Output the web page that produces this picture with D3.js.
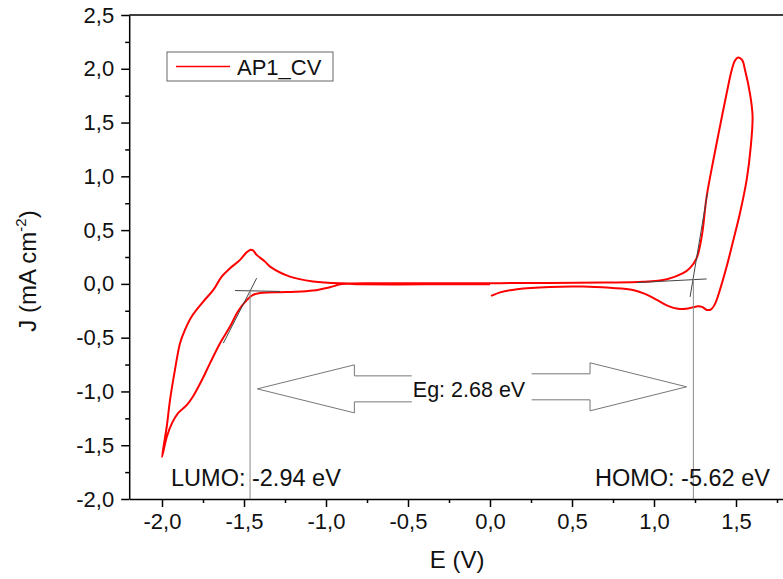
<!DOCTYPE html>
<html>
<head>
<meta charset="utf-8">
<script src="https://cdn.jsdelivr.net/npm/d3@7"></script>
<style>
  html, body { margin: 0; padding: 0; background: #fff; }
  svg { display: block; }
  text { font-family: "Liberation Sans", Arial, Helvetica, sans-serif; fill: #111; }
</style>
</head>
<body>
<svg id="chart" width="783" height="579"></svg>
<script>
// Cyclic voltammogram of AP1: potential E (V) and current density J (mA cm^-2), in scan order
const potential = [
  0.000, -0.244, -0.549, -0.793, -0.902, -0.976, -1.079, -1.189, -1.280, -1.384,
  -1.445, -1.482, -1.537, -1.585, -1.646, -1.707, -1.756, -1.811, -1.848, -1.902,
  -1.939, -1.970, -2.000,
  -1.971, -1.951, -1.921, -1.890, -1.860, -1.819, -1.748, -1.687, -1.636, -1.585,
  -1.524, -1.488, -1.463, -1.445, -1.423, -1.372, -1.341, -1.220, -1.079, -0.915,
  -0.671, -0.244, 0.061, 0.689, 0.933, 1.079, 1.177, 1.220, 1.260, 1.291,
  1.321, 1.362, 1.402, 1.443, 1.474, 1.494, 1.512, 1.537, 1.555, 1.585, 1.601,
  1.590, 1.565, 1.524, 1.484, 1.443, 1.402, 1.372, 1.348, 1.323, 1.293,
  1.268, 1.238, 1.195, 1.146, 1.085, 1.018, 0.945, 0.872, 0.732, 0.567,
  0.366, 0.165, 0.061, 0.006
];
const current = [
  -0.003, -0.003, -0.005, -0.003, -0.002, -0.031, -0.062, -0.074, -0.077, -0.082,
  -0.102, -0.149, -0.257, -0.397, -0.551, -0.737, -0.892, -1.047, -1.125, -1.202,
  -1.295, -1.419, -1.610,
  -1.326, -1.078, -0.799, -0.551, -0.428, -0.304, -0.164, -0.056, 0.068, 0.146,
  0.223, 0.288, 0.316, 0.311, 0.270, 0.207, 0.161, 0.068, 0.023, 0.006,
  0.007, 0.007, 0.007, 0.012, 0.019, 0.044, 0.099, 0.149, 0.239, 0.440,
  0.811, 1.152, 1.462, 1.772, 1.989, 2.077, 2.105, 2.082, 1.989, 1.772, 1.561,
  1.276, 0.967, 0.657, 0.409, 0.161, -0.056, -0.186, -0.237, -0.242, -0.214,
  -0.209, -0.218, -0.232, -0.232, -0.204, -0.149, -0.093, -0.056, -0.037, -0.025,
  -0.028, -0.049, -0.079, -0.112
];

const seriesName = "AP1_CV";

// Axis ticks
const xTicks = [-2.0, -1.5, -1.0, -0.5, 0.0, 0.5, 1.0, 1.5];
const xMinorTicks = [-1.75, -1.25, -0.75, -0.25, 0.25, 0.75, 1.25, 1.75];
const yTicks = [-2.0, -1.5, -1.0, -0.5, 0.0, 0.5, 1.0, 1.5, 2.0, 2.5];
const yMinorTicks = [-1.75, -1.25, -0.75, -0.25, 0.25, 0.75, 1.25, 1.75, 2.25];

// Onset analysis: tangent lines and onset potentials (V)
const reductionOnset = -1.463;
const oxidationOnset = 1.24;
const reductionBaseline = [[-1.555, -0.062], [-1.280, -0.070]];
const reductionSlope = [[-1.423, 0.053], [-1.626, -0.551]];
const oxidationBaseline = [[0.895, 0.012], [1.321, 0.046]];
const oxidationSlope = [[1.220, -0.121], [1.326, 0.846]];
const lumoLabel = "LUMO: -2.94 eV";
const homoLabel = "HOMO: -5.62 eV";
const gapLabel = "Eg: 2.68 eV";

const svg = d3.select("#chart");
const x = d3.scaleLinear().domain([-2.2, 1.8]).range([129.2, 785.2]);
const y = d3.scaleLinear().domain([-2.0, 2.5]).range([499, 15]);
const fmt = v => v.toFixed(1).replace(".", ",");
const FONT = 22;

// Frame (top and right edges)
svg.append("path")
  .attr("d", `M${x(-2.2)},${y(2.5)}H${x(1.8)}V${y(-2.0)}`)
  .attr("fill", "none").attr("stroke", "#000").attr("stroke-width", 1.5);

// X axis
const gx = svg.append("g").attr("transform", `translate(0,${y(-2.0)})`);
gx.call(d3.axisBottom(x).tickValues(xTicks).tickSize(8).tickSizeOuter(0).tickFormat(fmt));
gx.append("g").call(d3.axisBottom(x).tickValues(xMinorTicks).tickSize(4).tickSizeOuter(0).tickFormat(""))
  .select(".domain").remove();
gx.selectAll("path.domain").attr("stroke-width", 1.5).attr("stroke", "#000");
gx.selectAll(".tick line").attr("stroke-width", 1.5).attr("stroke", "#000");
gx.selectAll(".tick text").attr("font-size", FONT).attr("fill", "#111").attr("y", 14);

// Y axis
const gy = svg.append("g").attr("transform", `translate(${x(-2.2)},0)`);
gy.call(d3.axisLeft(y).tickValues(yTicks).tickSize(8).tickSizeOuter(0).tickFormat(fmt));
gy.append("g").call(d3.axisLeft(y).tickValues(yMinorTicks).tickSize(4).tickSizeOuter(0).tickFormat(""))
  .select(".domain").remove();
gy.selectAll("path.domain").attr("stroke-width", 1.5).attr("stroke", "#000");
gy.selectAll(".tick line").attr("stroke-width", 1.5).attr("stroke", "#000");
gy.selectAll(".tick text").attr("font-size", FONT).attr("fill", "#111").attr("x", -15);

// Axis titles
svg.append("text")
  .attr("x", (x(-2.2) + x(1.8)) / 2).attr("y", 568)
  .attr("text-anchor", "middle").attr("font-size", 24)
  .text("E (V)");
const yt = svg.append("text")
  .attr("transform", `translate(36,${(y(2.5) + y(-2.0)) / 2 + 14}) rotate(-90)`)
  .attr("text-anchor", "middle").attr("font-size", 24);
yt.append("tspan").text("J (mA cm");
yt.append("tspan").attr("font-size", 15).attr("dy", -10).text("-2");
yt.append("tspan").attr("dy", 10).text(")");

// Voltammogram
const pts = potential.map((e, i) => [e, current[i]]);
const line = d3.line().x(d => x(d[0])).y(d => y(d[1])).curve(d3.curveCatmullRom.alpha(0.5));
svg.append("path").datum(pts)
  .attr("d", line)
  .attr("fill", "none").attr("stroke", "#ff0000").attr("stroke-width", 2)
  .attr("stroke-linejoin", "round");

// Onset tangents
const seg = d3.line().x(d => x(d[0])).y(d => y(d[1]));
[reductionBaseline, reductionSlope, oxidationBaseline, oxidationSlope].forEach(s => {
  svg.append("path").attr("d", seg(s)).attr("fill", "none")
    .attr("stroke", "#444").attr("stroke-width", 1);
});
svg.append("line")
  .attr("x1", x(reductionOnset)).attr("x2", x(reductionOnset))
  .attr("y1", y(-0.062)).attr("y2", y(-2.0))
  .attr("stroke", "#888").attr("stroke-width", 1);
svg.append("line")
  .attr("x1", x(oxidationOnset)).attr("x2", x(oxidationOnset))
  .attr("y1", y(0.055)).attr("y2", y(-2.0))
  .attr("stroke", "#888").attr("stroke-width", 1);

// Band gap arrows (open block arrows between the two onsets)
function blockArrow(tipE, baseE, endE, midJ) {
  const tx = x(tipE), bx = x(baseE), ex = x(endE), cy = y(midJ);
  const head = 24, shaft = 13;
  return `M${ex},${cy - shaft}H${bx}V${cy - head}L${tx},${cy}L${bx},${cy + head}V${cy + shaft}H${ex}`;
}
svg.append("path").attr("d", blockArrow(-1.419, -0.827, -0.477, -0.976))
  .attr("fill", "none").attr("stroke", "#777").attr("stroke-width", 1);
svg.append("path").attr("d", blockArrow(1.199, 0.610, 0.254, -0.957))
  .attr("fill", "none").attr("stroke", "#777").attr("stroke-width", 1);
svg.append("text")
  .attr("x", x(-0.128)).attr("y", y(-0.975) + 8)
  .attr("text-anchor", "middle").attr("font-size", 21.5)
  .text(gapLabel);

// Energy level labels
svg.append("text").attr("x", x(-1.945)).attr("y", 486)
  .attr("font-size", 23.5).text(lumoLabel);
svg.append("text").attr("x", x(1.707)).attr("y", 486)
  .attr("text-anchor", "end").attr("font-size", 23.5).text(homoLabel);

// Legend
const lg = svg.append("g");
lg.append("rect").attr("x", 167).attr("y", 52).attr("width", 166).attr("height", 29)
  .attr("fill", "#fff").attr("stroke", "#666").attr("stroke-width", 1);
lg.append("line").attr("x1", 176).attr("x2", 230).attr("y1", 66.5).attr("y2", 66.5)
  .attr("stroke", "#ff0000").attr("stroke-width", 1.5);
lg.append("text").attr("x", 237).attr("y", 75).attr("font-size", FONT).text(seriesName);
</script>
</body>
</html>
